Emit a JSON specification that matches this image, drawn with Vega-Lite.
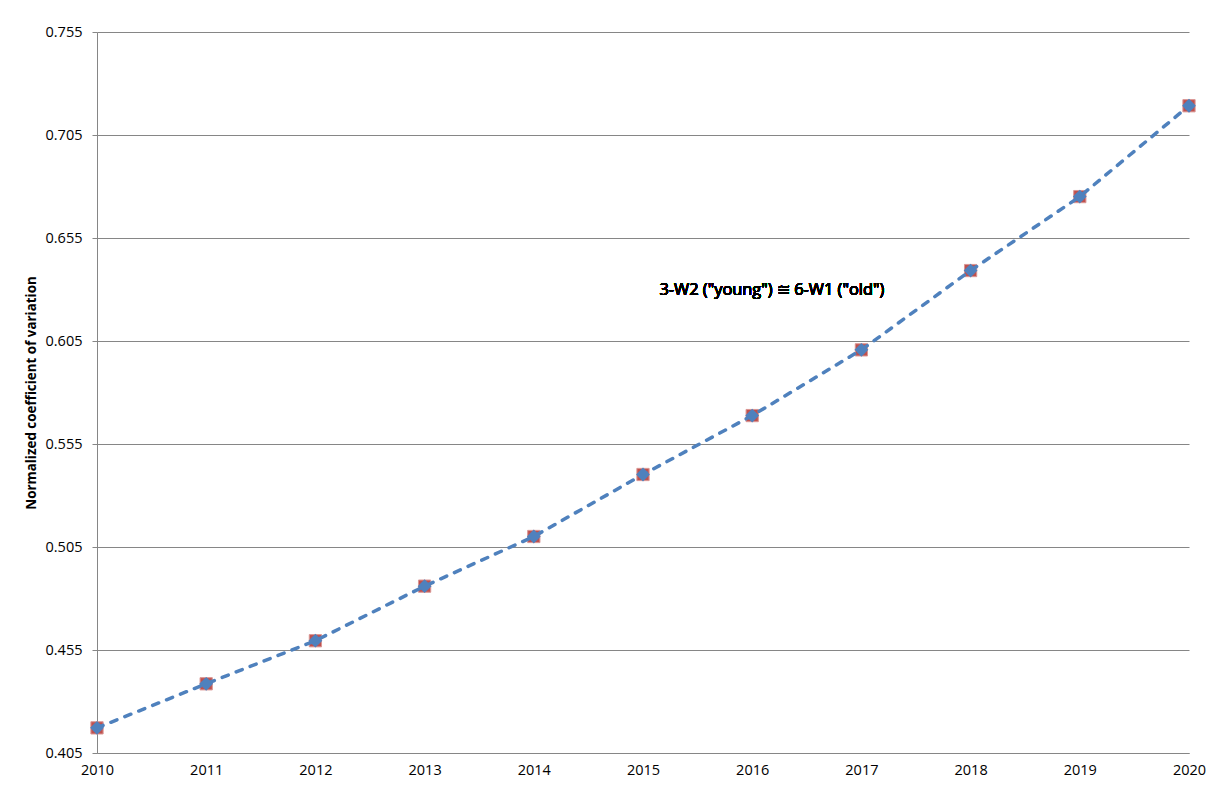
{
  "$schema": "https://vega.github.io/schema/vega-lite/v6.json",
  "width": 1092,
  "height": 721,
  "autosize": {"type": "none"},
  "padding": {"left": 97, "top": 32, "right": 24, "bottom": 32},
  "background": "white",
  "config": {
    "view": {"stroke": null},
    "font": "Open Sans"
  },
  "datasets": {
    "cv": [
      {"year": 2010, "series": "3-W2 (young)", "value": 0.4172},
      {"year": 2011, "series": "3-W2 (young)", "value": 0.4386},
      {"year": 2012, "series": "3-W2 (young)", "value": 0.4595},
      {"year": 2013, "series": "3-W2 (young)", "value": 0.4860},
      {"year": 2014, "series": "3-W2 (young)", "value": 0.5101},
      {"year": 2015, "series": "3-W2 (young)", "value": 0.5402},
      {"year": 2016, "series": "3-W2 (young)", "value": 0.5688},
      {"year": 2017, "series": "3-W2 (young)", "value": 0.6007},
      {"year": 2018, "series": "3-W2 (young)", "value": 0.6392},
      {"year": 2019, "series": "3-W2 (young)", "value": 0.6751},
      {"year": 2020, "series": "3-W2 (young)", "value": 0.7192},
      {"year": 2010, "series": "6-W1 (old)", "value": 0.4172},
      {"year": 2011, "series": "6-W1 (old)", "value": 0.4386},
      {"year": 2012, "series": "6-W1 (old)", "value": 0.4595},
      {"year": 2013, "series": "6-W1 (old)", "value": 0.4860},
      {"year": 2014, "series": "6-W1 (old)", "value": 0.5101},
      {"year": 2015, "series": "6-W1 (old)", "value": 0.5402},
      {"year": 2016, "series": "6-W1 (old)", "value": 0.5688},
      {"year": 2017, "series": "6-W1 (old)", "value": 0.6007},
      {"year": 2018, "series": "6-W1 (old)", "value": 0.6392},
      {"year": 2019, "series": "6-W1 (old)", "value": 0.6751},
      {"year": 2020, "series": "6-W1 (old)", "value": 0.7192}
    ]
  },
  "data": {"name": "cv"},
  "encoding": {
    "x": {
      "field": "year",
      "type": "quantitative",
      "scale": {"domain": [2010, 2020], "nice": false, "zero": false},
      "axis": {
        "title": null,
        "values": [2010, 2011, 2012, 2013, 2014, 2015, 2016, 2017, 2018, 2019, 2020],
        "format": "d",
        "grid": false,
        "ticks": false,
        "domainColor": "#868686",
        "domainWidth": 1,
        "labelFont": "Open Sans",
        "labelFontSize": 14.5,
        "labelColor": "#000000",
        "labelPadding": 10,
        "labelFlush": false
      }
    },
    "y": {
      "field": "value",
      "type": "quantitative",
      "scale": {"domain": [0.405, 0.755], "nice": false, "zero": false},
      "axis": {
        "title": "Normalized coefficient of variation",
        "titleFont": "Open Sans",
        "titleFontSize": 13.4,
        "titleFontWeight": "bold",
        "titleColor": "#000000",
        "titlePadding": 7,
        "values": [0.405, 0.455, 0.505, 0.555, 0.605, 0.655, 0.705, 0.755],
        "format": ".3f",
        "grid": true,
        "gridColor": "#868686",
        "gridWidth": 1,
        "domainColor": "#868686",
        "domainWidth": 1,
        "tickColor": "#868686",
        "tickSize": 5,
        "labelFont": "Open Sans",
        "labelFontSize": 14.5,
        "labelColor": "#000000",
        "labelPadding": 10
      }
    }
  },
  "layer": [
    {
      "transform": [{"filter": "datum.series === '3-W2 (young)'"}],
      "mark": {"type": "point", "shape": "square", "filled": true, "size": 150, "color": "#C0504D", "stroke": "#D99694", "strokeWidth": 1, "opacity": 1}
    },
    {
      "transform": [{"filter": "datum.series === '6-W1 (old)'"}],
      "mark": {"type": "line", "color": "#4F81BD", "strokeWidth": 3.5, "strokeDash": [6.5, 8.5], "strokeCap": "round"}
    },
    {
      "transform": [{"filter": "datum.series === '6-W1 (old)'"}],
      "mark": {"type": "point", "shape": "diamond", "filled": true, "size": 190, "color": "#4F81BD", "opacity": 1}
    },
    {
      "mark": {"type": "text", "text": "3-W2 (\"young\") \u2245 6-W1 (\"old\")", "font": "Open Sans", "fontSize": 16.4, "fontWeight": "normal", "color": "#000000", "align": "center", "baseline": "middle"},
      "encoding": {
        "x": {"datum": 2016.18, "type": "quantitative"},
        "y": {"datum": 0.63, "type": "quantitative"}
      }
    }
  ]
}
